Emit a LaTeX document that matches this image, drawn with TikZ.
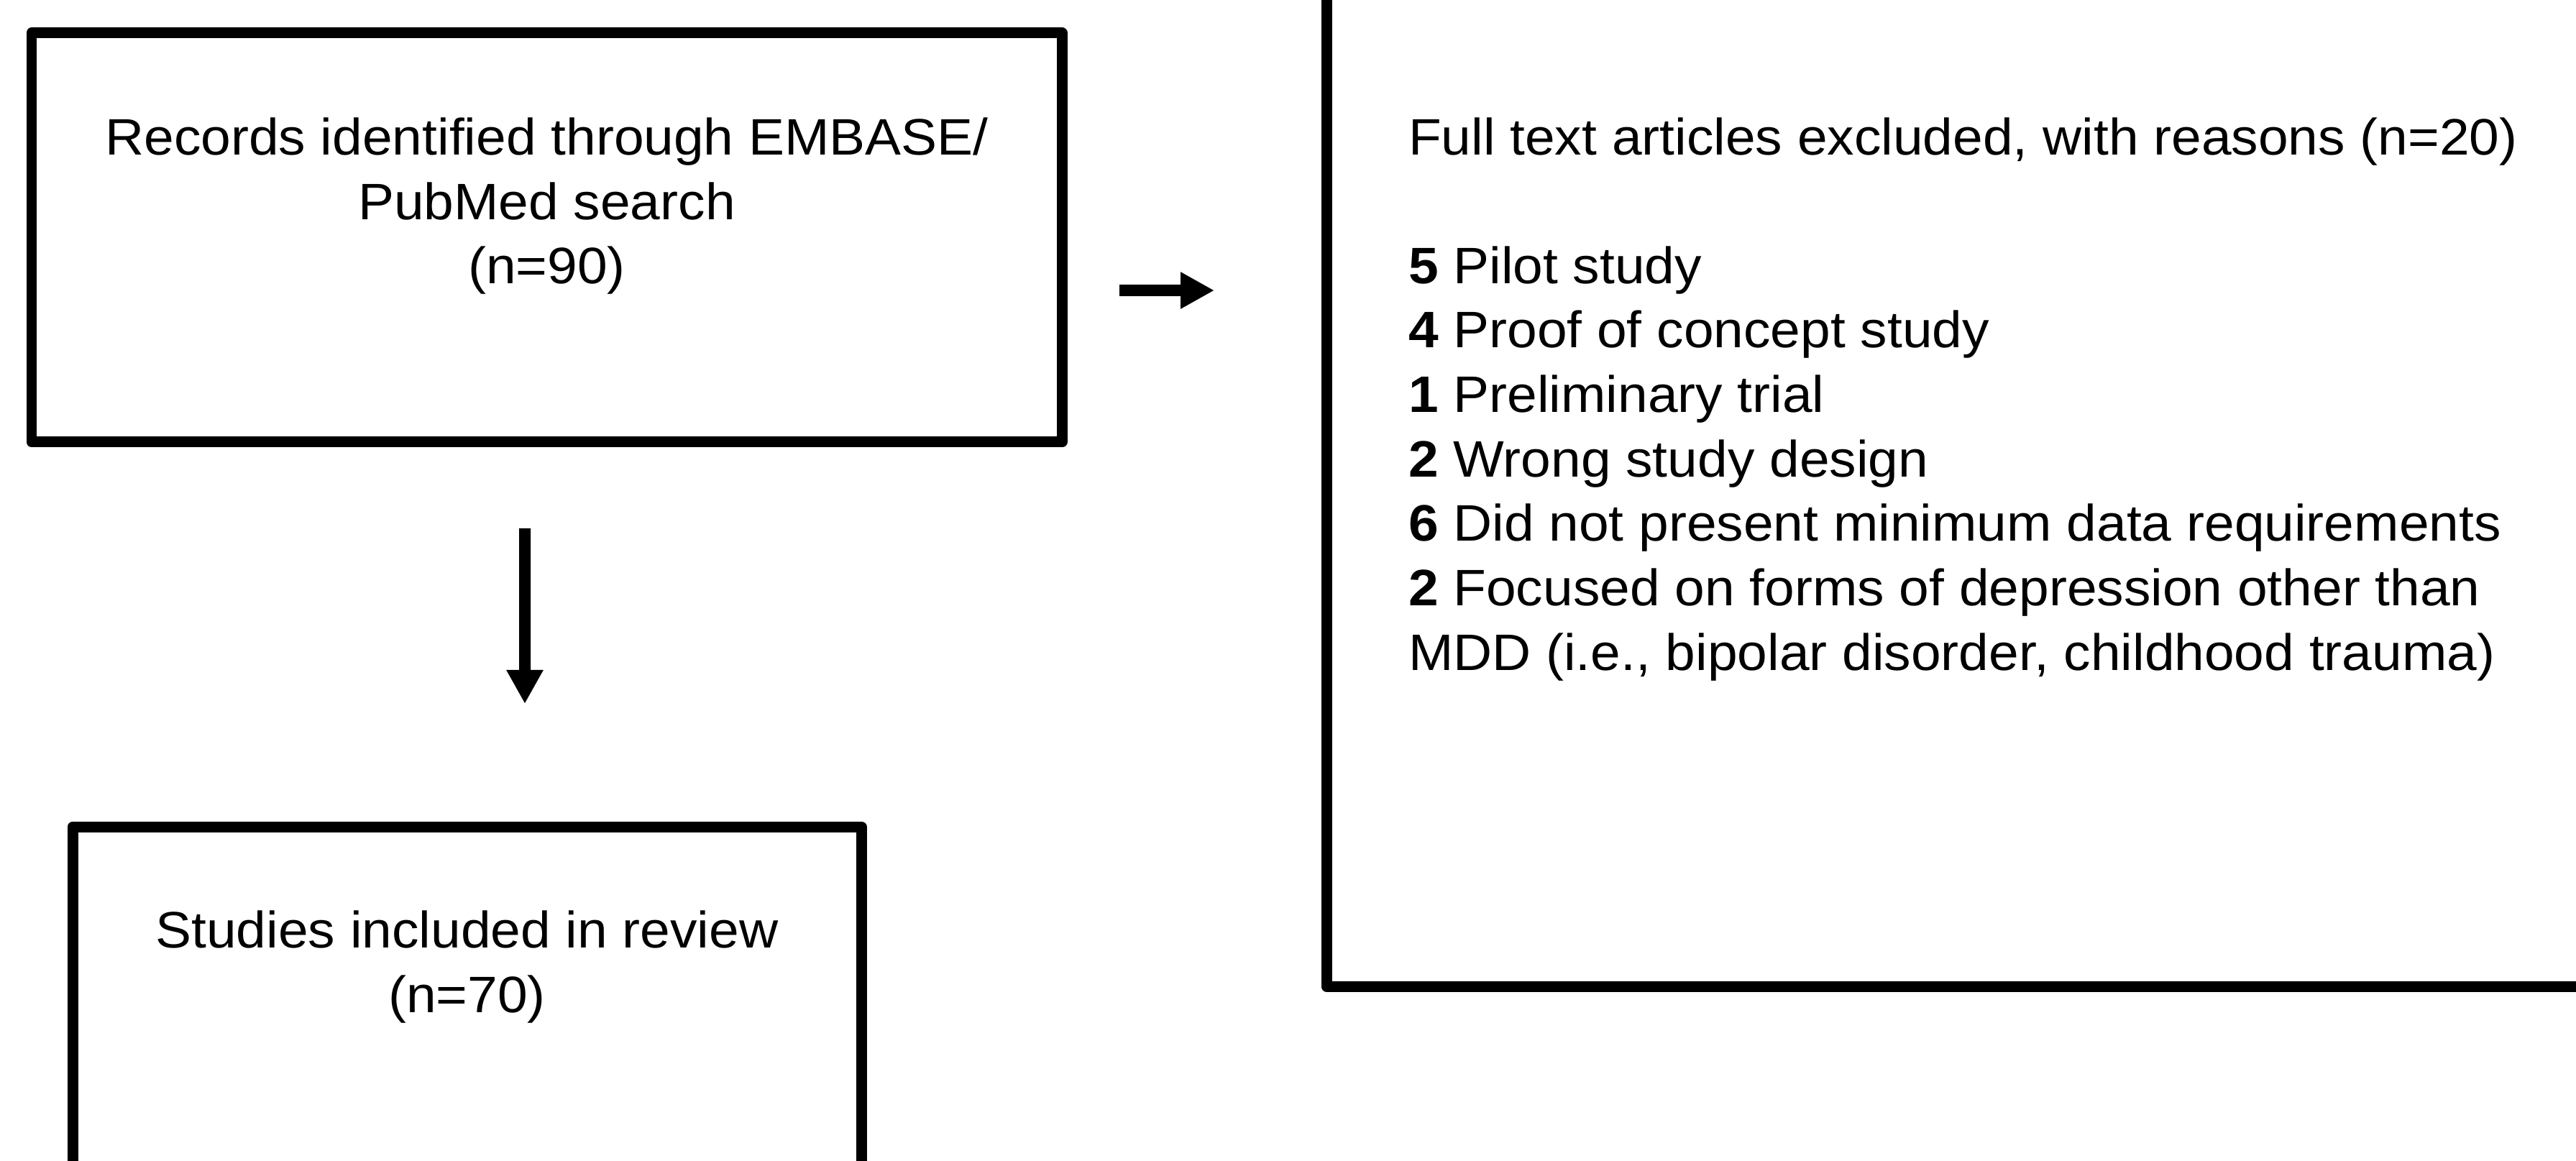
\documentclass[tikz,border=0pt]{standalone}
\usepackage{fontspec}
\setmainfont[FakeStretch=1.05]{Liberation Sans}
\usetikzlibrary{positioning, arrows.meta}

\begin{document}
\begin{tikzpicture}[
	box/.style={draw, line width=0.15cm, line join=round, inner sep=0, outer sep=0},
	txt/.style={inner sep=0, outer sep=0, font=\fontsize{20.3}{25.5}\selectfont},
	flow/.style={-{Triangle[length=0.47cm, width=0.48cm]}, line width=0.16cm}
]
	\useasboundingbox (0,0) rectangle (35.83,-16.15);
	\clip (0,0) rectangle (35.83,-16.15);

	\node[box, minimum width=14.33cm, minimum height=5.69cm] (rec) at (7.605,-3.305) {};
	\node[box, minimum width=10.97cm, minimum height=5cm] (inc) at (6.495,-14) {};
	\node[box, minimum width=18.55cm, minimum height=14.32cm] (exc) at (27.725,-6.56) {};

	\node[txt, align=center, below=1.18cm of rec.north] (rectxt) {Records identified through EMBASE/\\PubMed search\\(n=90)};
	\node[txt, align=center, below=1.17cm of inc.north] (inctxt) {Studies included in review\\(n=70)};
	\node[txt, align=left, below right=2.24cm and 1.14cm of exc.north west] (exctxt) {Full text articles excluded, with reasons (n=20)\\[0.89cm]
		\textbf{5} Pilot study\\
		\textbf{4} Proof of concept study\\
		\textbf{1} Preliminary trial\\
		\textbf{2} Wrong study design\\
		\textbf{6} Did not present minimum data requirements\\
		\textbf{2} Focused on forms of depression other than\\
		MDD (i.e., bipolar disorder, childhood trauma)};

	\draw[flow] ([xshift=-0.305cm, yshift=-1.2cm]rec.south) -- ([xshift=0.805cm, yshift=1.71cm]inc.north);
	\draw[flow] ([xshift=0.8cm, yshift=-0.735cm]rec.east) -- ([xshift=-1.56cm, yshift=2.52cm]exc.west);
\end{tikzpicture}
\end{document}
